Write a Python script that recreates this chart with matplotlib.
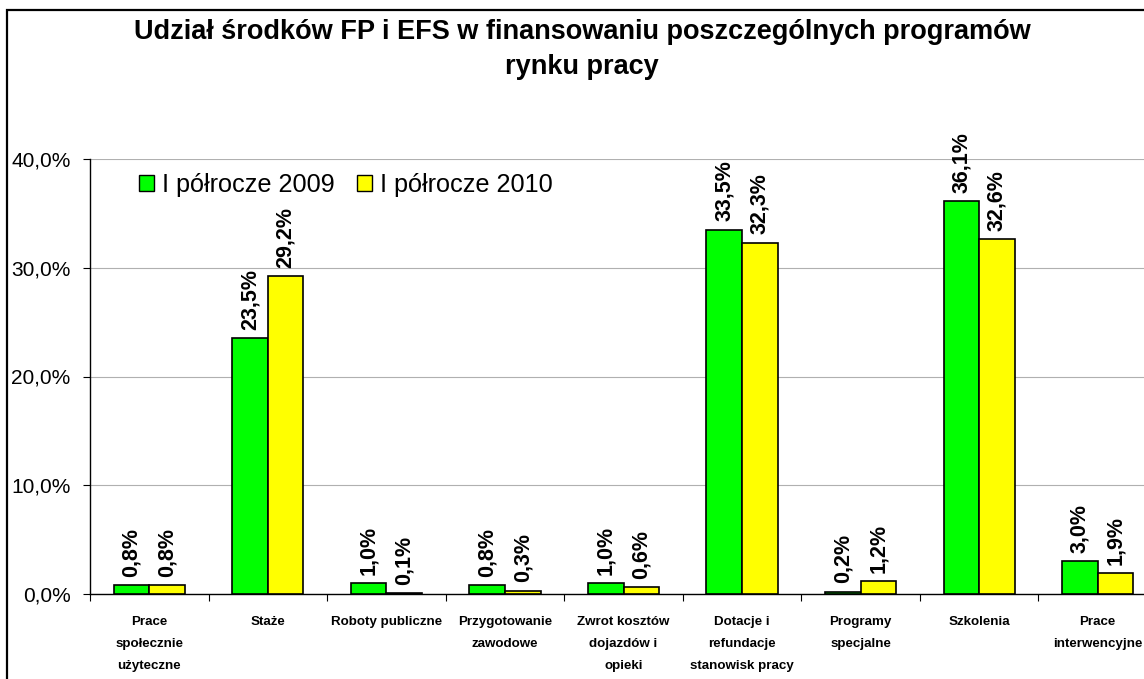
import matplotlib.pyplot as plt
from matplotlib.patches import Patch, Rectangle

# programy rynku pracy - udzial FP i EFS (%)
categories = ["Prace\nspołecznie\nużyteczne", "Staże", "Roboty publiczne",
              "Przygotowanie\nzawodowe", "Zwrot kosztów\ndojazdów i\nopieki",
              "Dotacje i\nrefundacje\nstanowisk pracy", "Programy\nspecjalne",
              "Szkolenia", "Prace\ninterwencyjne"]
h1_2009 = [0.8, 23.5, 1.0, 0.8, 1.0, 33.5, 0.2, 36.1, 3.0]
h1_2010 = [0.8, 29.2, 0.1, 0.3, 0.6, 32.3, 1.2, 32.6, 1.9]
series_names = ["I półrocze 2009", "I półrocze 2010"]
colors = ["#00ff00", "#ffff00"]
yticks = [0, 10, 20, 30, 40]

plt.rcParams['font.family'] = ['Liberation Sans', 'DejaVu Sans']

W, H = 1144, 679
fig = plt.figure(figsize=(W / 100, H / 100), dpi=100)
ax = fig.add_axes([90 / W, 1 - 594 / H, 1067 / W, 435 / H])

bw = 0.3
x = [i + 0.5 for i in range(len(categories))]
for vals, col, off in [(h1_2009, colors[0], -bw / 2), (h1_2010, colors[1], bw / 2)]:
    xs = [xi + off for xi in x]
    ax.bar(xs, vals, width=bw, color=col, edgecolor="black", linewidth=1.2, zorder=3)
    for xi, v in zip(xs, vals):
        ax.annotate(("%.1f%%" % v).replace(".", ","), (xi, v),
                    xytext=(0, 6), textcoords="offset points",
                    rotation=90, ha="center", va="bottom",
                    fontsize=15.5, fontweight="bold", zorder=4)

ax.set_xlim(0, len(categories))
ax.set_ylim(0, 40)
ax.set_yticks(yticks)
ax.set_yticklabels([("%.1f%%" % t).replace(".", ",") for t in yticks], fontsize=15)
ax.yaxis.grid(True, color="#b0b0b0", linewidth=0.8, zorder=0)

# ticks between categories, labels centred under each pair
ax.set_xticks(range(len(categories) + 1))
ax.set_xticklabels([])
ax.set_xticks(x, minor=True)
ax.set_xticklabels(categories, minor=True, fontsize=9.6, fontweight="bold",
                   linespacing=2.1, va="top")
ax.tick_params(axis="x", which="minor", length=0, pad=16)
ax.tick_params(axis="x", which="major", length=5, direction="out")
ax.tick_params(axis="y", length=5, direction="out", pad=9)

for s in ["top", "right"]:
    ax.spines[s].set_visible(False)
ax.spines["left"].set_linewidth(1.0)
ax.spines["bottom"].set_linewidth(1.0)

fig.text(582 / W, 1 - 32 / H, "Udział środków FP i EFS w finansowaniu poszczególnych programów",
         ha="center", va="center", fontsize=19.5, fontweight="bold")
fig.text(582 / W, 1 - 67 / H, "rynku pracy",
         ha="center", va="center", fontsize=19.5, fontweight="bold")

handles = [Patch(facecolor=c, edgecolor="black", linewidth=1.0) for c in colors]
fig.legend(handles, series_names, loc="center left",
           bbox_to_anchor=(139 / W, 1 - 185 / H), ncol=2, frameon=False,
           fontsize=18.2, handlelength=0.6, handleheight=0.6,
           handletextpad=0.3, columnspacing=0.9, borderpad=0, borderaxespad=0)

# chart frame
fig.add_artist(Rectangle((7 / W, -0.2), 1.5, 1.2 - 10 / H, transform=fig.transFigure,
                         fill=False, edgecolor="black", linewidth=1.6, clip_on=False))

fig.savefig("out.png", dpi=100)
